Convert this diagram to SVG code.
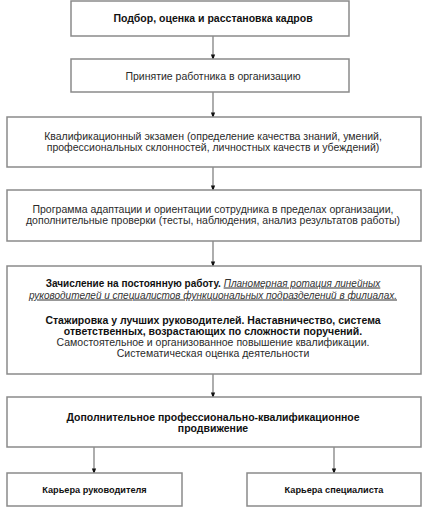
<svg xmlns="http://www.w3.org/2000/svg" width="425" height="509" viewBox="0 0 425 509">
<defs>
<style>
.box{fill:#fff;stroke:#8a8a8a;stroke-width:1.5}
.t{font-family:"Liberation Sans",Arial,sans-serif;font-size:10.5px;fill:#2a2a2a;text-anchor:middle}
.b{font-weight:bold;fill:#111}
.s{font-size:10px}
.iu{font-style:italic;text-decoration:underline;font-weight:normal;font-size:10px;fill:#333}
.sm{font-size:9.2px}
.c{stroke:#777;stroke-width:1.2;fill:none}
</style>
<marker id="ah" markerWidth="6" markerHeight="10" refX="6" refY="3.5" orient="auto" markerUnits="userSpaceOnUse" viewBox="0 0 10 7">
<path d="M0,0 L10,3.5 L0,7 Z" fill="#111"/>
</marker>
</defs>
<rect width="425" height="509" fill="#fff"/>
<g id="connectors">
<line class="c" x1="213" y1="36" x2="213" y2="58" marker-end="url(#ah)"/>
<line class="c" x1="213" y1="92" x2="213" y2="116" marker-end="url(#ah)"/>
<line class="c" x1="213" y1="167" x2="213" y2="189" marker-end="url(#ah)"/>
<line class="c" x1="213" y1="241" x2="213" y2="265" marker-end="url(#ah)"/>
<line class="c" x1="213" y1="374" x2="213" y2="396" marker-end="url(#ah)"/>
<line class="c" x1="94" y1="447" x2="94" y2="472" marker-end="url(#ah)"/>
<line class="c" x1="334" y1="447" x2="334" y2="472" marker-end="url(#ah)"/>
</g>
<g id="n1">
<rect class="box" x="71" y="1" width="278" height="35"/>
<text class="t b" x="213" y="22">Подбор, оценка и расстановка кадров</text>
</g>
<g id="n2">
<rect class="box" x="71" y="59" width="278" height="33"/>
<text class="t" x="213" y="79.5">Принятие работника в организацию</text>
</g>
<g id="n3">
<rect class="box" x="7" y="117" width="414" height="50"/>
<text class="t" x="213" y="139.5">Квалификационный экзамен (определение качества знаний, умений,</text>
<text class="t" x="213" y="150.5">профессиональных склонностей, личностных качеств и убеждений)</text>
</g>
<g id="n4">
<rect class="box" x="7" y="190" width="414" height="51"/>
<text class="t" x="213" y="213">Программа адаптации и ориентации сотрудника в пределах организации,</text>
<text class="t" x="213" y="224">дополнительные проверки (тесты, наблюдения, анализ результатов работы)</text>
</g>
<g id="n5">
<rect class="box" x="7" y="266" width="414" height="108"/>
<text class="t b s" x="213" y="286.5">Зачисление на постоянную работу. <tspan class="iu">Планомерная ротация линейных</tspan></text>
<text class="t iu" x="213" y="298.5">руководителей и специалистов функциональных подразделений в филиалах.</text>
<text class="t b" x="213" y="324">Стажировка у лучших руководителей. Наставничество, система</text>
<text class="t b" x="213" y="335">ответственных, возрастающих по сложности поручений.</text>
<text class="t" x="213" y="346">Самостоятельное и организованное повышение квалификации.</text>
<text class="t" x="213" y="356.5">Систематическая оценка деятельности</text>
</g>
<g id="n6">
<rect class="box" x="7" y="397" width="414" height="50"/>
<text class="t b" x="213" y="420.5">Дополнительное профессионально-квалификационное</text>
<text class="t b" x="213" y="431.5">продвижение</text>
</g>
<g id="n7">
<rect class="box" x="7" y="473" width="175" height="33"/>
<text class="t b sm" x="94.5" y="493">Карьера руководителя</text>
</g>
<g id="n8">
<rect class="box" x="247" y="473" width="174" height="33"/>
<text class="t b sm" x="334" y="493">Карьера специалиста</text>
</g>
</svg>
